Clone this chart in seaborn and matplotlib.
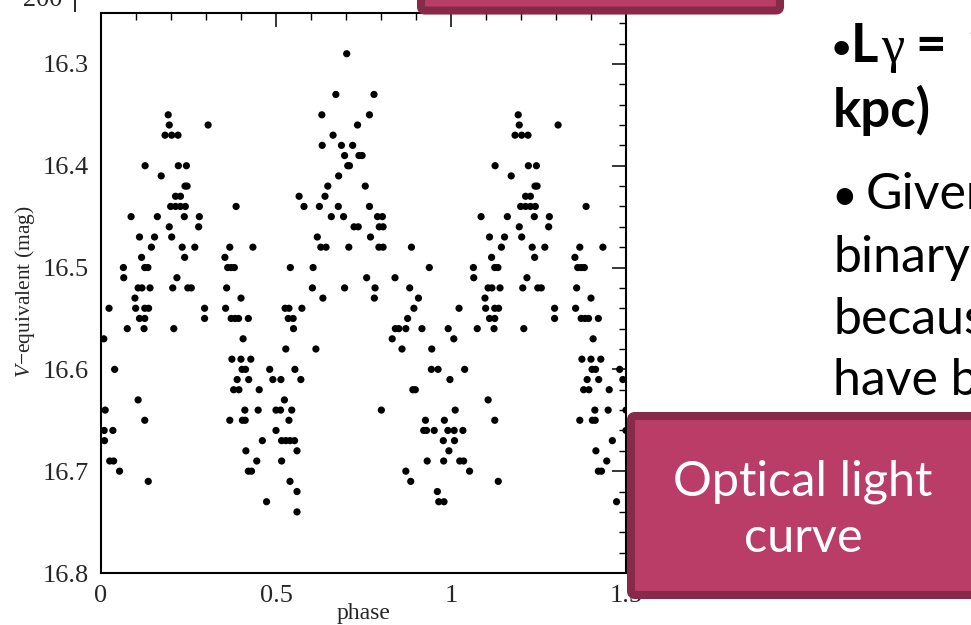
import numpy as np
import pandas as pd
import matplotlib
matplotlib.use("Agg")
import matplotlib.pyplot as plt
from matplotlib.patches import FancyBboxPatch
from matplotlib.ticker import MultipleLocator
import seaborn as sns

# Folded V-band photometry (phase in [0, 1), magnitude), one line per magnitude level
phase = [0.702,
         0.671, 0.780,
         0.192, 0.631, 0.767,
         0.195, 0.306, 0.733,
         0.183, 0.202, 0.220, 0.663,
         0.632, 0.687, 0.719,
         0.696, 0.737, 0.746,
         0.126, 0.221, 0.244, 0.705, 0.710,
         0.172, 0.679,
         0.240, 0.246, 0.648, 0.755,
         0.213, 0.227, 0.566, 0.640,
         0.199, 0.213, 0.227, 0.241, 0.386, 0.580, 0.624, 0.678, 0.767,
         0.086, 0.161, 0.238, 0.281, 0.658, 0.693, 0.790, 0.804,
         0.195, 0.279, 0.723, 0.735, 0.795, 0.806,
         0.110, 0.153, 0.202, 0.618, 0.770,
         0.144, 0.232, 0.268, 0.368, 0.434, 0.628, 0.643, 0.708, 0.794, 0.806, 0.887,
         0.116, 0.239, 0.354,
         0.064, 0.125, 0.134, 0.362, 0.372, 0.381, 0.541, 0.606, 0.938,
         0.065, 0.217, 0.759, 0.840,
         0.106, 0.117, 0.140, 0.205, 0.248, 0.258, 0.359, 0.604, 0.696, 0.783, 0.882,
         0.097, 0.400, 0.634, 0.781, 0.907,
         0.023, 0.099, 0.125, 0.136, 0.296, 0.356, 0.526, 0.537, 0.574, 0.894,
         0.110, 0.125, 0.296, 0.372, 0.383, 0.393, 0.421, 0.535, 0.549, 0.876,
         0.075, 0.123, 0.208, 0.550, 0.841, 0.851, 0.871, 0.917, 0.992,
         0.008, 0.406, 0.832,
         0.528, 0.614, 0.860, 0.945,
         0.374, 0.400, 0.428,
         0.039, 0.403, 0.413, 0.482, 0.554, 0.944, 0.963,
         0.389, 0.422, 0.491, 0.514, 0.571, 0.997,
         0.379, 0.394, 0.452, 0.891, 0.898,
         0.106, 0.524,
         0.012, 0.411, 0.449, 0.500, 0.513, 0.545, 0.801,
         0.125, 0.368, 0.404, 0.412, 0.537, 0.927, 0.981,
         0.009, 0.034, 0.500, 0.922, 0.930, 0.952, 0.991,
         0.010, 0.461, 0.516, 0.528, 0.540, 0.553, 0.978,
         0.414, 0.560, 0.994,
         0.025, 0.036, 0.445, 0.516, 0.932, 0.979,
         0.053, 0.421, 0.430, 0.871,
         0.135, 0.540, 0.885,
         0.560, 0.961,
         0.473, 0.965, 0.980,
         0.560]

vmag = ([16.29] * 1 + [16.33] * 2 + [16.35] * 3 + [16.36] * 3 + [16.37] * 4
        + [16.38] * 3 + [16.39] * 3 + [16.40] * 5 + [16.41] * 2 + [16.42] * 4
        + [16.43] * 4 + [16.44] * 9 + [16.45] * 8 + [16.46] * 6 + [16.47] * 5
        + [16.48] * 11 + [16.49] * 3 + [16.50] * 9 + [16.51] * 4 + [16.52] * 11
        + [16.53] * 5 + [16.54] * 10 + [16.55] * 10 + [16.56] * 9 + [16.57] * 3
        + [16.58] * 4 + [16.59] * 3 + [16.60] * 7 + [16.61] * 6 + [16.62] * 5
        + [16.63] * 2 + [16.64] * 7 + [16.65] * 7 + [16.66] * 7 + [16.67] * 7
        + [16.68] * 3 + [16.69] * 6 + [16.70] * 4 + [16.71] * 3 + [16.72] * 2
        + [16.73] * 3 + [16.74] * 1)

x_ticks = [0, 0.5, 1, 1.5]
x_tick_labels = ["0", "0.5", "1", "1.5"]
y_ticks = [16.3, 16.4, 16.5, 16.6, 16.7, 16.8]
y_tick_labels = ["16.3", "16.4", "16.5", "16.6", "16.7", "16.8"]

sns.set_style("white")
plt.rcParams["font.family"] = ["Liberation Serif", "DejaVu Serif"]
plt.rcParams["mathtext.fontset"] = "custom"
plt.rcParams["mathtext.rm"] = "Liberation Serif"
plt.rcParams["mathtext.it"] = "Liberation Serif:italic"

W, H = 971, 625
fig = plt.figure(figsize=(W / 100, H / 100), dpi=100)
fig.patch.set_facecolor("white")


def fx(px):
    return px / W


def fy(py):
    return 1 - py / H


# ---- light curve panel ----
ax = fig.add_axes([fx(101), fy(573), fx(626) - fx(101), fy(13) - fy(573)])
df = pd.DataFrame({"phase": phase, "vmag": vmag})
# repeat the first half cycle so phases 0 to 1.5 are shown
shown = pd.concat([df, df[df["phase"] <= 0.5].assign(phase=lambda d: d["phase"] + 1)],
                  ignore_index=True)
sns.scatterplot(data=shown, x="phase", y="vmag", ax=ax, s=27, color="black",
                edgecolor="none", linewidth=0, legend=False)

ax.set_xlim(0, 1.5)
ax.set_ylim(16.8, 16.25)
ax.set_xticks(x_ticks)
ax.set_xticklabels(x_tick_labels)
ax.set_yticks(y_ticks)
ax.set_yticklabels(y_tick_labels)
ax.xaxis.set_minor_locator(MultipleLocator(0.1))
ax.yaxis.set_minor_locator(MultipleLocator(0.02))
ax.tick_params(which="both", direction="in", top=True, right=True,
               color="black", labelsize=19, pad=9)
ax.tick_params(which="major", length=10, width=1.1)
ax.tick_params(which="minor", length=5, width=1.0)
for sp in ax.spines.values():
    sp.set_linewidth(1.5)
    sp.set_color("black")
ax.set_xlabel("")
ax.set_ylabel("")

fig.text(fx(364), fy(614), "phase", ha="center", va="center", fontsize=17)
fig.text(fx(25), fy(292), r"$V$−equivalent (mag)", rotation=90,
         ha="center", va="center", fontsize=15.5)

# ---- bottom edge of the panel above ----
ax_up = fig.add_axes([fx(75), fy(11), fx(775) - fx(75), 0.2])
ax_up.set_facecolor("none")
ax_up.set_xlim(0, 700 / 176)
ax_up.set_ylim(0, 1)
ax_up.xaxis.set_major_locator(MultipleLocator(1))
ax_up.xaxis.set_minor_locator(MultipleLocator(0.2))
ax_up.set_yticks([])
ax_up.tick_params(axis="x", which="both", direction="in", labelbottom=False)
ax_up.tick_params(axis="x", which="major", length=7, width=1.0)
ax_up.tick_params(axis="x", which="minor", length=3.5, width=0.9)
for side in ["bottom", "top", "right"]:
    ax_up.spines[side].set_visible(False)
ax_up.spines["left"].set_linewidth(1.4)
fig.text(fx(63), fy(0), "−200", ha="right", va="center", fontsize=19)

# ---- slide boxes ----
FILL = "#b93d66"
EDGE = "#872948"
top_box = FancyBboxPatch((421, H - 10.5), 359, 40,
                         boxstyle="round,pad=0,rounding_size=4",
                         transform=None, facecolor=FILL, edgecolor=EDGE,
                         linewidth=5.8, zorder=5)
fig.patches.append(top_box)
low_box = FancyBboxPatch((631, H - 595), 360, 179,
                         boxstyle="round,pad=0,rounding_size=4",
                         transform=None, facecolor=FILL, edgecolor=EDGE,
                         linewidth=5.8, zorder=5)
fig.patches.append(low_box)

box_font = dict(family=["Lato", "DejaVu Sans"], color="white", fontsize=35,
                ha="center", va="baseline", zorder=6)
fig.text(fx(803), fy(495), "Optical light", **box_font)
fig.text(fx(803), fy(552), "curve", **box_font)

# ---- slide bullet text ----
sans = ["Lato", "DejaVu Sans"]
bold = dict(family=sans, fontweight="bold", fontsize=38,
            ha="left", va="baseline", color="black")
reg = dict(family=sans, fontsize=36, ha="left", va="baseline", color="black")
fig.text(fx(832), fy(58), "•", family=sans, fontweight="bold", fontsize=24,
         ha="left", va="baseline", color="black")
fig.text(fx(851), fy(62), "L", **bold)
fig.text(fx(881), fy(62), "γ", family=["Liberation Serif", "DejaVu Serif"],
         fontsize=38, ha="left", va="baseline", color="black")
fig.text(fx(915), fy(62), "=", **bold)
fig.text(fx(966), fy(62), "1", **bold)
fig.text(fx(833), fy(127), "kpc)", **bold)
fig.text(fx(831), fy(210), "•", family=sans, fontsize=32,
         ha="left", va="baseline", color="black")
fig.text(fx(866), fy(209), "Given", **reg)
fig.text(fx(833), fy(272), "binary", **reg)
fig.text(fx(833), fy(334), "because", **reg)
fig.text(fx(833), fy(395), "have been", **reg)

fig.savefig("out.png", dpi=100)
